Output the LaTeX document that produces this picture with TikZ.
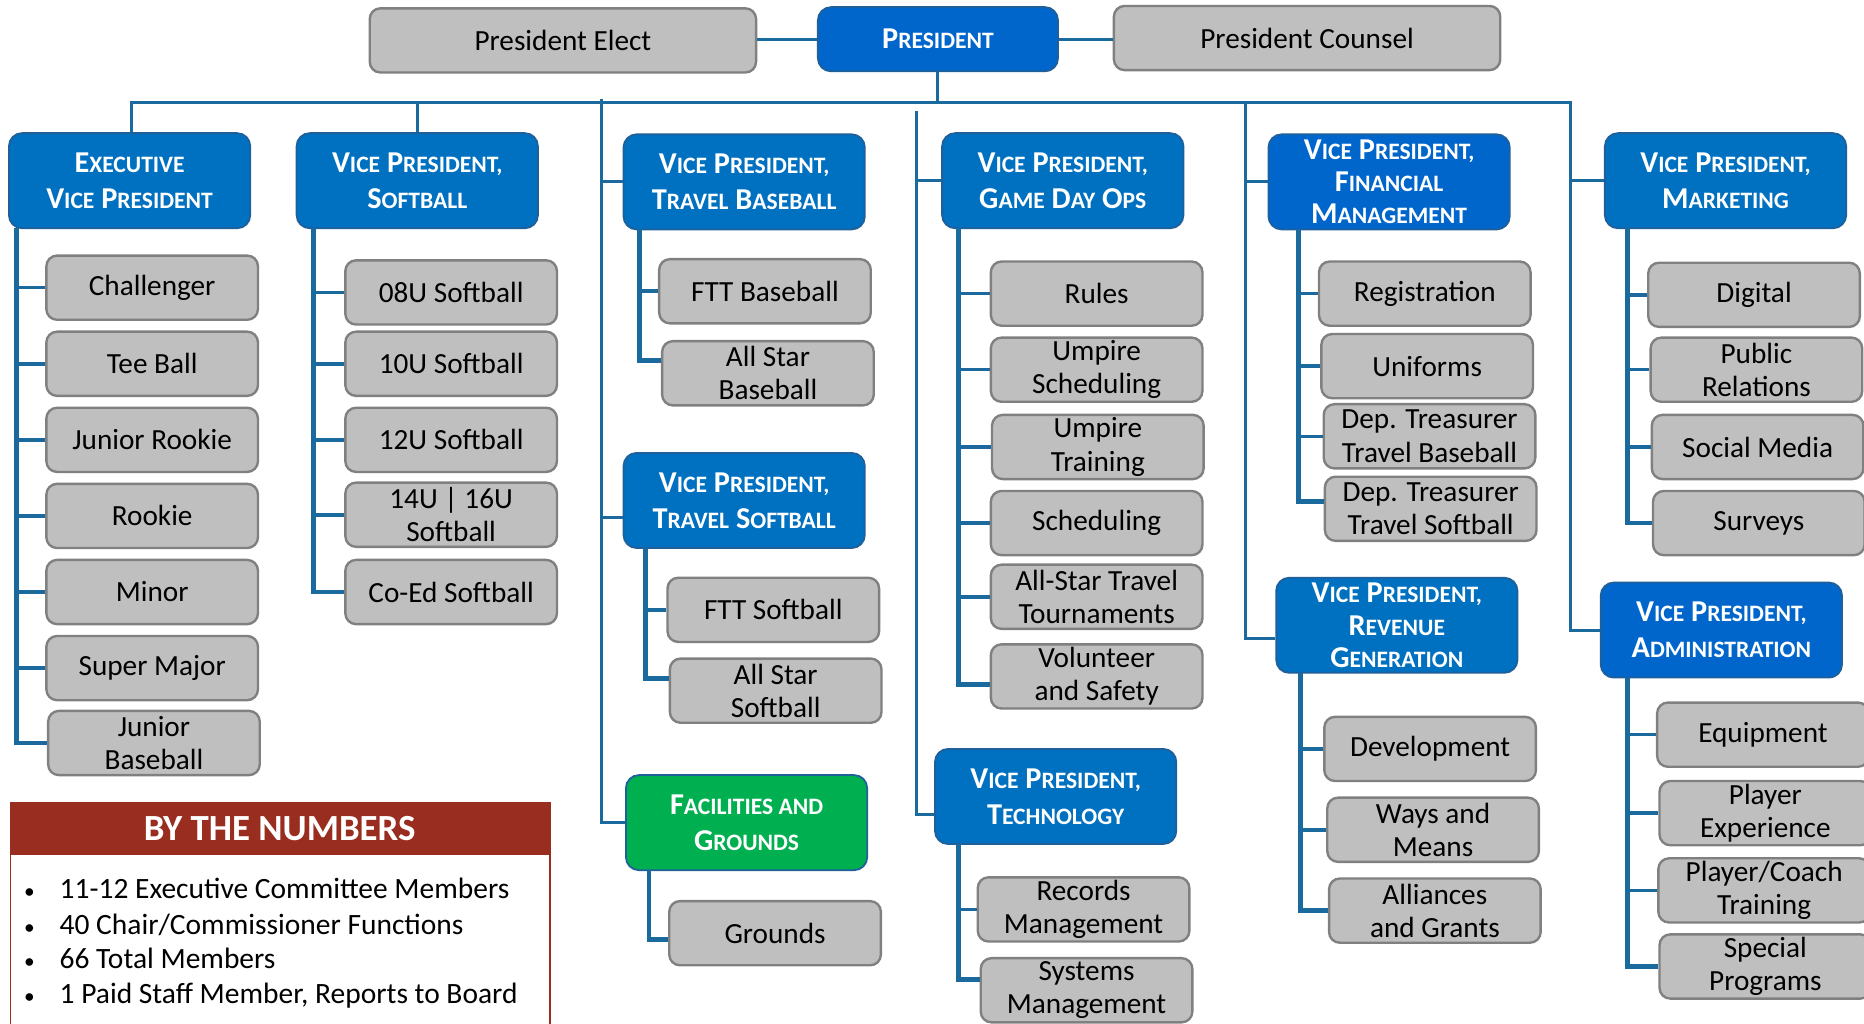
\documentclass[tikz,border=0pt]{standalone}
\usepackage{fontspec}
\setmainfont{Carlito}
\usetikzlibrary{calc}
\definecolor{vpblue}{HTML}{0070C0}
\definecolor{vpbluetwo}{HTML}{0066CC}
\definecolor{vpedge}{HTML}{1F5F9A}
\definecolor{gfill}{HTML}{BFBFBF}
\definecolor{gedge}{HTML}{808080}
\definecolor{lnc}{HTML}{1B6A9E}
\definecolor{fgreen}{HTML}{00B050}
\definecolor{nred}{HTML}{992D1F}
\newcommand\BC[1]{{\fontsize{25.5}{30}\selectfont #1}}
\newcommand\SC[1]{{\fontsize{19.8}{30}\selectfont #1}}
\newcommand\vpx{\BC{V}\SC{ICE} \BC{P}\SC{RESIDENT,}}
\tikzset{
  gbox/.style={draw=gedge, line width=2pt, fill=gfill, rounded corners=9pt,
    minimum width=178pt, minimum height=54pt, inner sep=0pt, align=center,
    font=\fontsize{24.6}{28}\selectfont, text=black},
  bbox/.style={draw=vpedge, line width=1.5pt, fill=vpblue, rounded corners=11pt,
    minimum width=203pt, minimum height=80pt, inner sep=0pt, align=center,
    text=white, font=\bfseries\fontsize{25.5}{30}\selectfont},
  threel/.style={font=\bfseries\fontsize{25.5}{27}\selectfont},
  busl/.style={draw=lnc, line width=2.5pt},
  trunk/.style={draw=lnc, line width=4pt},
  stub/.style={draw=lnc, line width=3pt},
  bul/.style={anchor=base west, inner sep=0pt, font=\fontsize{24.8}{29}\selectfont}
}
\begin{document}
\begin{tikzpicture}[x=1pt,y=-1pt]
\clip (0,0) rectangle (1568,861);
\fill[white] (0,0) rectangle (1568,861);

% top row
\node[gbox, minimum width=325pt] (pe) at (473.5,34) {President Elect};
\node[bbox, fill=vpbluetwo, minimum width=202pt, minimum height=54pt] (pres) at (789,33) {\BC{P}\SC{RESIDENT}};
\node[gbox, minimum width=325pt] (pc) at (1099.5,32) {President Counsel};
\draw[busl] (pe.east |- pres.west) -- (pres.west);
\draw[busl] (pres.east) -- (pres.east -| pc.west);

% VP boxes
\node[bbox] (evp) at (109,152) {\BC{E}\SC{XECUTIVE}\\\BC{V}\SC{ICE} \BC{P}\SC{RESIDENT}};
\node[bbox] (vpsb) at (351,152) {\vpx\\\BC{S}\SC{OFTBALL}};
\node[bbox] (vptb) at (626,153) {\vpx\\\BC{T}\SC{RAVEL} \BC{B}\SC{ASEBALL}};
\node[bbox] (vpts) at (626,421) {\vpx\\\BC{T}\SC{RAVEL} \BC{S}\SC{OFTBALL}};
\node[bbox, fill=fgreen] (fac) at (628,692) {\BC{F}\SC{ACILITIES AND}\\\BC{G}\SC{ROUNDS}};
\node[bbox] (vpgd) at (894,152) {\vpx\\\BC{G}\SC{AME} \BC{D}\SC{AY} \BC{O}\SC{PS}};
\node[bbox] (vptech) at (888,670) {\vpx\\\BC{T}\SC{ECHNOLOGY}};
\node[bbox, threel, fill=vpbluetwo] (vpfin) at (1168.5,153) {\vpx\\\BC{F}\SC{INANCIAL}\\\BC{M}\SC{ANAGEMENT}};
\node[bbox, threel] (vprev) at (1175,526) {\vpx\\\BC{R}\SC{EVENUE}\\\BC{G}\SC{ENERATION}};
\node[bbox] (vpmkt) at (1451.5,152) {\vpx\\\BC{M}\SC{ARKETING}};
\node[bbox, fill=vpbluetwo] (vpadm) at (1448,530) {\vpx\\\BC{A}\SC{DMINISTRATION}};

% bus
\coordinate (busL) at (111,86);
\coordinate (busR) at (1321,86);
\coordinate (L1) at (506,83);
\coordinate (L2) at (771,93);
\coordinate (L3) at (1048,86);
\coordinate (pTS) at ([yshift=-14pt]vpts.west);
\coordinate (pTE) at ([yshift=-15pt]vptech.west);
\coordinate (pRV) at ([yshift=-11pt]vprev.west);
\draw[busl] (pres.south) -- (pres.south |- busL);
\draw[busl] (evp.north -| busL) -- (busL) -- (busR) |- (vpadm.west);
\draw[busl] (vpsb.north) -- (vpsb.north |- busL);
\draw[busl] (L1) |- (fac.west);
\draw[busl] (L1 |- vptb.west) -- (vptb.west);
\draw[busl] (L1 |- pTS) -- (pTS);
\draw[busl] (L2) |- (pTE);
\draw[busl] (L2 |- vpgd.west) -- (vpgd.west);
\draw[busl] (L3) |- (pRV);
\draw[busl] (L3 |- vpfin.west) -- (vpfin.west);
\draw[busl] (busR |- vpmkt.west) -- (vpmkt.west);

% EVP children
\node[gbox] (e1) at (128,242) {Challenger};
\node[gbox] (e2) at (128,306) {Tee Ball};
\node[gbox] (e3) at (128,370) {Junior Rookie};
\node[gbox] (e4) at (128,434) {Rookie};
\node[gbox] (e5) at (128,498) {Minor};
\node[gbox] (e6) at (128,562) {Super Major};
\node[gbox] (e7) at (129.5,625) {Junior\\Baseball};
\coordinate (tE) at (14,192);
\draw[trunk] (tE) |- (e7.west);
\foreach \c in {e1,e2,e3,e4,e5,e6} \draw[stub] (tE |- \c.west) -- (\c.west);

% Softball children
\node[gbox] (s1) at (379.5,246) {08U Softball};
\node[gbox] (s2) at (379.5,306) {10U Softball};
\node[gbox] (s3) at (379.5,370) {12U Softball};
\node[gbox] (s4) at (379.5,433) {14U | 16U\\Softball};
\node[gbox] (s5) at (379.5,498) {Co-Ed Softball};
\coordinate (tS) at (264,192);
\draw[trunk] (tS) |- (s5.west);
\foreach \c in {s1,s2,s3,s4} \draw[stub] (tS |- \c.west) -- (\c.west);

% Travel Baseball children
\node[gbox] (tb1) at (643.5,245) {FTT Baseball};
\node[gbox] (tb2) at (646,314) {All Star\\Baseball};
\coordinate (tTB) at (538,193);
\coordinate (eTB) at ([yshift=11pt]tb2.west);
\draw[trunk] (tTB) |- (eTB);
\draw[stub] (tTB |- tb1.west) -- (tb1.west);

% Travel Softball children
\node[gbox] (ts1) at (650.5,513) {FTT Softball};
\node[gbox] (ts2) at (652.5,581) {All Star\\Softball};
\coordinate (tTS) at (543,461);
\coordinate (eTS) at ([yshift=10pt]ts2.west);
\draw[trunk] (tTS) |- (eTS);
\draw[stub] (tTS |- ts1.west) -- (ts1.west);

% Facilities children
\node[gbox] (f1) at (652,785) {Grounds};
\coordinate (tF) at (546,732);
\coordinate (eF) at ([yshift=-5pt]f1.west);
\draw[trunk] (tF) |- (eF);

% Game Day Ops children
\node[gbox] (g1) at (922.5,247) {Rules};
\node[gbox] (g2) at (922.5,311) {Umpire\\Scheduling};
\node[gbox] (g3) at (923.5,376) {Umpire\\Training};
\node[gbox] (g4) at (922.5,440) {Scheduling};
\node[gbox] (g5) at (922.5,502) {All-Star Travel\\Tournaments};
\node[gbox] (g6) at (922.5,569) {Volunteer\\and Safety};
\coordinate (tG) at (806,192);
\coordinate (eG) at ([yshift=-7pt]g6.west);
\draw[trunk] (tG) |- (eG);
\foreach \c in {g1,g2,g3,g4,g5} \draw[stub] (tG |- \c.west) -- (\c.west);

% Technology children
\node[gbox] (t1) at (911.5,765) {Records\\Management};
\node[gbox] (t2) at (914,833) {Systems\\Management};
\coordinate (tT) at (806,710);
\coordinate (eT) at ([yshift=9pt]t2.west);
\draw[trunk] (tT) |- (eT);
\draw[stub] (tT |- t1.west) -- (t1.west);

% Financial children
\node[gbox] (n1) at (1198.5,247) {Registration};
\node[gbox] (n2) at (1200.5,308) {Uniforms};
\node[gbox] (n3) at (1202.5,367) {Dep. Treasurer\\Travel Baseball};
\node[gbox] (n4) at (1203.5,428) {Dep. Treasurer\\Travel Softball};
\coordinate (tN) at (1092,193);
\coordinate (eN) at ([yshift=6pt]n4.west);
\draw[trunk] (tN) |- (eN);
\foreach \c in {n1,n2,n3} \draw[stub] (tN |- \c.west) -- (\c.west);

% Marketing children
\node[gbox] (m1) at (1475.5,248) {Digital};
\node[gbox] (m2) at (1477.5,311) {Public\\Relations};
\node[gbox] (m3) at (1478.5,376) {Social Media};
\node[gbox] (m4) at (1479.5,440) {Surveys};
\coordinate (tM) at (1369,192);
\draw[trunk] (tM) |- (m4.west);
\foreach \c in {m1,m2,m3} \draw[stub] (tM |- \c.west) -- (\c.west);

% Revenue children
\node[gbox] (r1) at (1203,630) {Development};
\node[gbox] (r2) at (1205.5,698) {Ways and\\Means};
\node[gbox] (r3) at (1207,766) {Alliances\\and Grants};
\coordinate (tR) at (1094,566);
\draw[trunk] (tR) |- (r3.west);
\draw[stub] (tR |- r1.west) -- (r1.west);
\draw[stub] (tR |- r2.west) -- (r2.west);

% Administration children
\node[gbox] (a1) at (1483,618) {Equipment};
\node[gbox] (a2) at (1485,684) {Player\\Experience};
\node[gbox] (a3) at (1484,749) {Player/Coach\\Training};
\node[gbox] (a4) at (1485,813) {Special\\Programs};
\coordinate (tA) at (1369,570);
\draw[trunk] (tA) |- (a4.west);
\foreach \c in {a1,a2,a3} \draw[stub] (tA |- \c.west) -- (\c.west);

% By the numbers
\node[draw=nred, line width=1.5pt, fill=white, anchor=north west, minimum width=454pt,
  minimum height=220pt, inner sep=0pt] (bnb) at (8,675) {};
\node[fill=nred, anchor=north west, minimum width=454pt, minimum height=44pt, inner sep=0pt,
  text=white, font=\bfseries\fontsize{31}{34}\selectfont] (bnh) at (8,675) {BY THE NUMBERS};
\node[bul] (b1) at (20,756) {\makebox[30pt][l]{\fontsize{18}{20}\selectfont •}11-12 Executive Committee Members};
\node[bul] (b2) at (20,786) {\makebox[30pt][l]{\fontsize{18}{20}\selectfont •}40 Chair/Commissioner Functions};
\node[bul] (b3) at (20,815) {\makebox[30pt][l]{\fontsize{18}{20}\selectfont •}66 Total Members};
\node[bul] (b4) at (20,844) {\makebox[30pt][l]{\fontsize{18}{20}\selectfont •}1 Paid Staff Member, Reports to Board};
\end{tikzpicture}
\end{document}
